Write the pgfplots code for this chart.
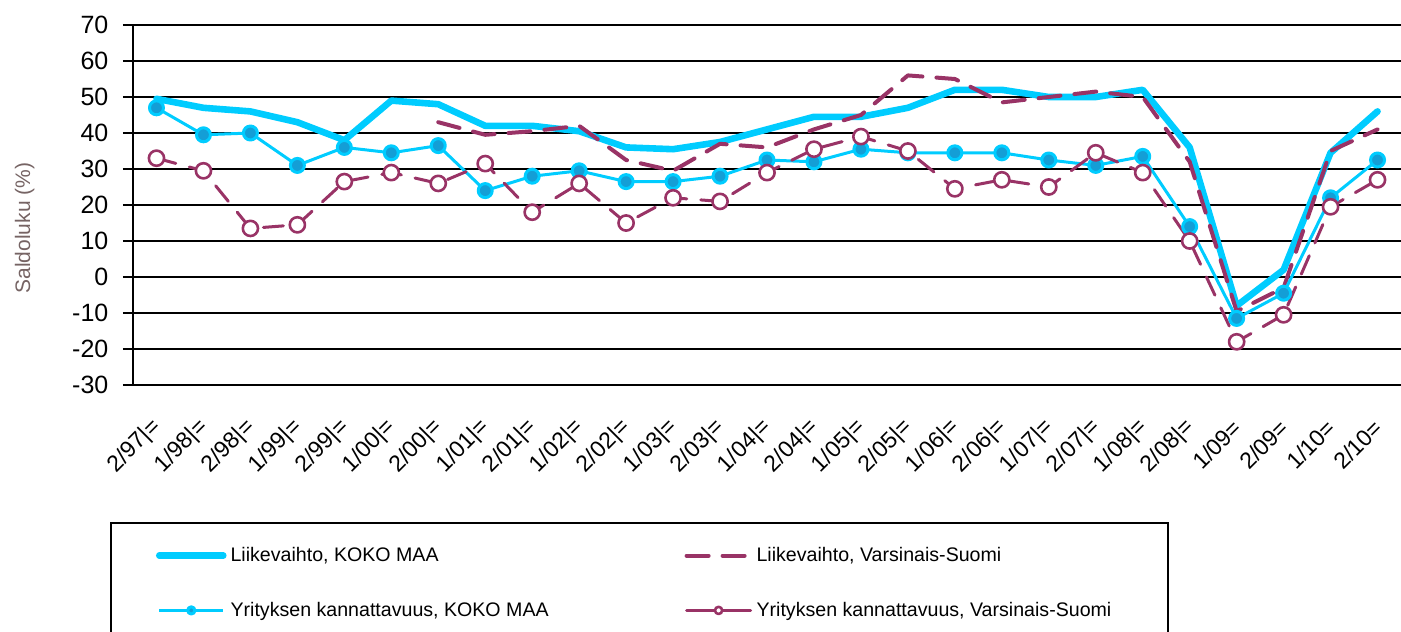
\documentclass[border=0pt]{standalone}
\usepackage{pgfplots}
\pgfplotsset{compat=1.18}
\usepackage{fontspec}
\setmainfont{Liberation Sans}
\definecolor{cyanline}{RGB}{0,204,255}
\definecolor{markfill}{RGB}{20,158,214}
\definecolor{plum}{RGB}{153,51,102}
\definecolor{labgray}{RGB}{118,100,100}
\pgfplotsset{
  linelegend/.style={legend image code/.code={\draw[##1] (0pt,0pt) -- (32pt,0pt);}},
  marklegend/.style={legend image code/.code={\draw[##1, solid, mark size=1.8pt, mark repeat=2, mark phase=2] plot coordinates {(0pt,0pt)(16pt,0pt)(32pt,0pt)};}},
}
\begin{document}
\begin{tikzpicture}
\begin{axis}[
  scale only axis, width=634pt, height=180pt,
  xmin=-0.5, xmax=26.5, ymin=-30, ymax=70,
  axis x line*=bottom, axis y line*=left,
  axis line style={line width=1.4pt, black, -},
  ytick={-30,-20,...,70},
  yticklabels={-30,-20,-10,0,10,20,30,40,50,60,70},
  ymajorgrids, grid style={line width=1.4pt, black},
  tick align=outside, major tick length=5pt,
  ytick style={line width=1.4pt, black},
  xtick={0,...,26}, xtick style={draw=none},
  xticklabels={{2/97|=},{1/98|=},{2/98|=},{1/99|=},{2/99|=},{1/00|=},{2/00|=},{1/01|=},{2/01|=},{1/02|=},{2/02|=},{1/03|=},{2/03|=},{1/04|=},{2/04|=},{1/05|=},{2/05|=},{1/06|=},{2/06|=},{1/07|=},{2/07|=},{1/08|=},{2/08|=},{1/09=},{2/09=},{1/10=},{2/10=}},
  xticklabel style={font=\fontsize{11.5}{13}\selectfont, anchor=east, xshift=3pt, yshift=-12pt, rotate=45},
  yticklabel style={font=\fontsize{12.5}{14}\selectfont, xshift=-3.8pt},
  ylabel={Saldoluku (\%)},
  every axis y label/.style={at={(axis description cs:-0.0855,0.436)}, rotate=90, anchor=center, font=\fontsize{10.5}{12}\selectfont, text=labgray},
  legend columns=2,
  legend cell align=left,
  legend style={at={(-0.01814,-0.3806)}, anchor=north west, draw=black, line width=1pt,
    inner xsep=22.5pt, inner ysep=10pt, row sep=14.8pt,
    font=\fontsize{9.8}{11}\selectfont,
    /tikz/every even column/.append style={column sep=0pt}},
]
% Liikevaihto, KOKO MAA
\addplot[color=cyanline, line width=3.3pt, line cap=round, line join=round, linelegend]
coordinates {(0,49.5)(1,47)(2,46)(3,43)(4,38)(5,49)(6,48)(7,42)(8,42)(9,40.5)(10,36)(11,35.5)(12,37.5)(13,41)(14,44.5)(15,44.5)(16,47)(17,52)(18,52)(19,50)(20,50)(21,52)(22,36)(23,-8)(24,2)(25,34.5)(26,46)};
\addlegendentry{\makebox[225pt][l]{Liikevaihto, KOKO MAA}}
% Liikevaihto, Varsinais-Suomi
\addplot[color=plum, line width=2pt, line cap=round, line join=round, dash pattern=on 11pt off 7pt, linelegend]
coordinates {(6,43)(7,39.5)(8,40.5)(9,42)(10,32.5)(11,29.5)(12,37)(13,36)(14,41)(15,45)(16,56)(17,55)(18,48.5)(19,50)(20,51.5)(21,50)(22,32)(23,-9.5)(24,-3)(25,35)(26,41)};
\addlegendentry{\makebox[181pt][l]{Liikevaihto, Varsinais-Suomi}}
% Yrityksen kannattavuus, KOKO MAA
\addplot[color=cyanline, line width=1.5pt, line join=round, mark=*, mark size=3.5pt,
  mark options={fill=markfill, draw=cyanline, line width=1.5pt}, marklegend]
coordinates {(0,47)(1,39.5)(2,40)(3,31)(4,36)(5,34.5)(6,36.5)(7,24)(8,28)(9,29.5)(10,26.5)(11,26.5)(12,28)(13,32.5)(14,32)(15,35.5)(16,34.5)(17,34.5)(18,34.5)(19,32.5)(20,31)(21,33.5)(22,14)(23,-11.5)(24,-4.5)(25,22)(26,32.5)};
\addlegendentry{\makebox[225pt][l]{Yrityksen kannattavuus, KOKO MAA}}
% Yrityksen kannattavuus, Varsinais-Suomi
\addplot[color=plum, line width=1.5pt, line cap=round, line join=round, dash pattern=on 10pt off 7pt, mark=*, mark size=3.8pt,
  mark options={fill=white, draw=plum, line width=1.3pt, solid}, marklegend]
coordinates {(0,33)(1,29.5)(2,13.5)(3,14.5)(4,26.5)(5,29)(6,26)(7,31.5)(8,18)(9,26)(10,15)(11,22)(12,21)(13,29)(14,35.5)(15,39)(16,35)(17,24.5)(18,27)(19,25)(20,34.5)(21,29)(22,10)(23,-18)(24,-10.5)(25,19.5)(26,27)};
\addlegendentry{\makebox[181pt][l]{Yrityksen kannattavuus, Varsinais-Suomi}}
\end{axis}
\pgfresetboundingbox
\path[use as bounding box] (-66.5pt,-123pt) rectangle (634pt,192.5pt);
\end{tikzpicture}
\end{document}
